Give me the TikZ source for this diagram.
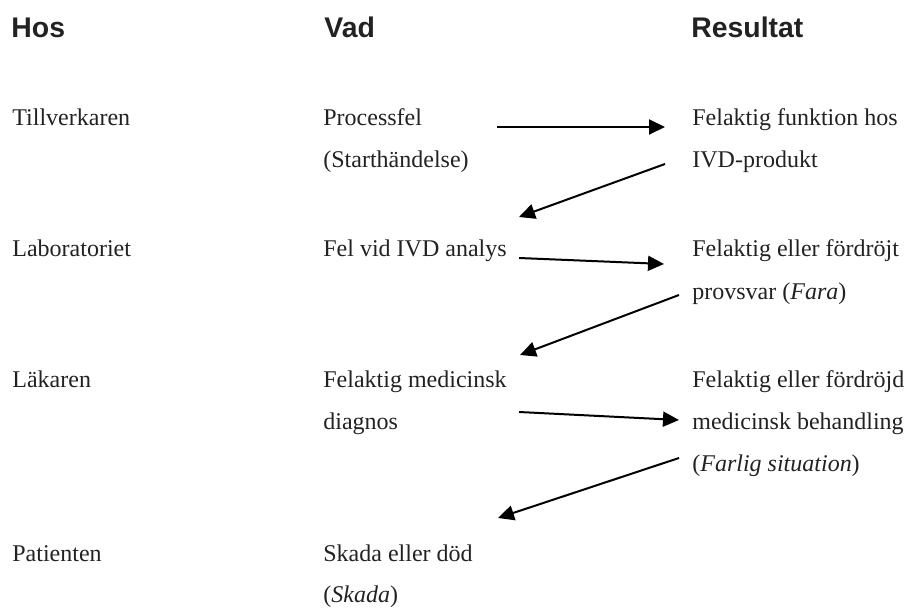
\documentclass[tikz,border=0pt]{standalone}
\usepackage{fontspec}
\setmainfont{Liberation Serif}
\newfontfamily\headfont{Liberation Sans}
\usetikzlibrary{arrows.meta}
\definecolor{txt}{RGB}{34,34,34}
\tikzset{
  head/.style={anchor=base west,inner sep=0pt,font=\headfont\fontsize{14.2pt}{17pt}\selectfont\bfseries,text=txt},
  body/.style={anchor=base west,inner sep=0pt,font=\fontsize{12pt}{14pt}\selectfont,text=txt},
  flow/.style={line width=1pt,-{Triangle[length=8pt,width=7.5pt]}}
}
\begin{document}
\begin{tikzpicture}[x=0.5pt,y=-0.5pt]
\useasboundingbox (0,0) rectangle (907,608);
% headers
\node[head] (hos) at (11,38) {Hos};
\node[head] (vad) at (324,38) {Vad};
\node[head] (res) at (691,38) {Resultat};
% left column
\node[body] (tillv) at (12,126) {Tillverkaren};
\node[body] (lab) at (12,257) {Laboratoriet};
\node[body] (lak) at (12,388) {Läkaren};
\node[body] (pat) at (12,562) {Patienten};
% middle column
\node[body] (proc) at (323,126) {Processfel};
\node[body] (start) at (323,168) {(Starthändelse)};
\node[body] (felivd) at (323,257) {Fel vid IVD analys};
\node[body] (felmed) at (323,388) {Felaktig medicinsk};
\node[body] (diag) at (323,430) {diagnos};
\node[body] (skada) at (323,562) {Skada eller död};
\node[body] (skadaf) at (323,603) {(\textit{Skada})};
% right column
\node[body] (felfunk) at (692,126) {Felaktig funktion hos};
\node[body] (ivdp) at (692,168) {IVD-produkt};
\node[body] (felfor) at (692,257) {Felaktig eller fördröjt};
\node[body] (prov) at (692,300) {provsvar (\textit{Fara})};
\node[body] (felford) at (692,388) {Felaktig eller fördröjd};
\node[body] (medbeh) at (692,430) {medicinsk behandling};
\node[body] (farlig) at (692,472) {(\textit{Farlig situation})};
% arrow end points
\coordinate (a1s) at (497,127);
\coordinate (a1e) at (665,127);
\coordinate (a2s) at (665,164);
\coordinate (a2e) at (519,217);
\coordinate (a3s) at (519,258);
\coordinate (a3e) at (664,264);
\coordinate (a4s) at (679,295);
\coordinate (a4e) at (520,355);
\coordinate (a5s) at (519,412);
\coordinate (a5e) at (679,420);
\coordinate (a6s) at (679,458);
\coordinate (a6e) at (498,518);
\draw[flow] (a1s) -- (a1e);
\draw[flow] (a2s) -- (a2e);
\draw[flow] (a3s) -- (a3e);
\draw[flow] (a4s) -- (a4e);
\draw[flow] (a5s) -- (a5e);
\draw[flow] (a6s) -- (a6e);
\end{tikzpicture}
\end{document}
